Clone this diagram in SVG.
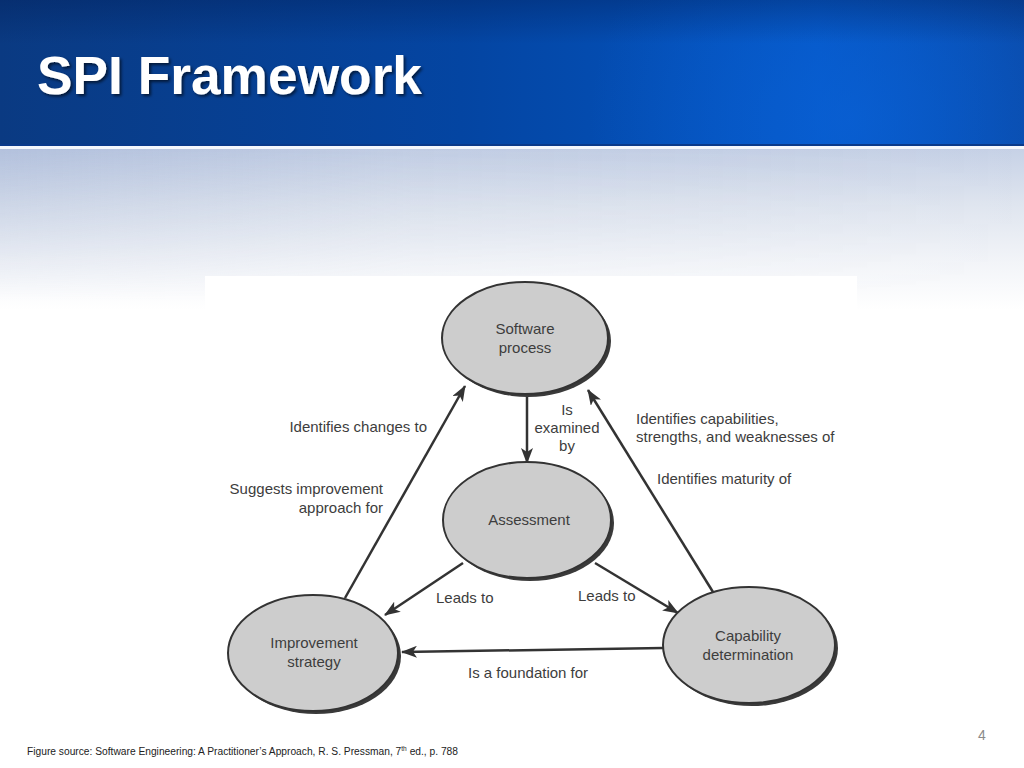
<svg xmlns="http://www.w3.org/2000/svg" width="1024" height="768" viewBox="0 0 1024 768">
<defs>
<linearGradient id="hdr" x1="0" y1="0" x2="1" y2="0">
<stop offset="0" stop-color="#0a3a82"/>
<stop offset="0.45" stop-color="#0445a2"/>
<stop offset="0.8" stop-color="#0456c4"/>
<stop offset="1" stop-color="#0a4aa8"/>
</linearGradient>
<radialGradient id="hl" cx="850" cy="120" r="260" gradientUnits="userSpaceOnUse">
<stop offset="0" stop-color="#0a62d8" stop-opacity="0.7"/>
<stop offset="1" stop-color="#0a62d8" stop-opacity="0"/>
</radialGradient>
<linearGradient id="hdrV" x1="0" y1="0" x2="0" y2="1">
<stop offset="0" stop-color="#001a50" stop-opacity="0.35"/>
<stop offset="0.3" stop-color="#001a50" stop-opacity="0"/>
<stop offset="1" stop-color="#001a50" stop-opacity="0"/>
</linearGradient>
<linearGradient id="body" x1="0" y1="148" x2="0" y2="310" gradientUnits="userSpaceOnUse">
<stop offset="0" stop-color="#c6d1e6"/>
<stop offset="0.35" stop-color="#dfe5ef"/>
<stop offset="0.7" stop-color="#f2f4f8"/>
<stop offset="1" stop-color="#ffffff"/>
</linearGradient>
<linearGradient id="bodyH" x1="0" y1="0" x2="1" y2="0">
<stop offset="0" stop-color="#8fa3cc" stop-opacity="0.35"/>
<stop offset="0.4" stop-color="#8fa3cc" stop-opacity="0.1"/>
<stop offset="1" stop-color="#8fa3cc" stop-opacity="0"/>
</linearGradient>
<linearGradient id="fadeM" x1="0" y1="148" x2="0" y2="300" gradientUnits="userSpaceOnUse">
<stop offset="0" stop-color="#fff"/>
<stop offset="1" stop-color="#000"/>
</linearGradient>
<mask id="vm" maskUnits="userSpaceOnUse" x="0" y="148" width="1024" height="160">
<rect x="0" y="148" width="1024" height="160" fill="url(#fadeM)"/>
</mask>
<filter id="tsh" x="-10%" y="-30%" width="120%" height="160%">
<feDropShadow dx="2" dy="2" stdDeviation="1.5" flood-color="#000" flood-opacity="0.6"/>
</filter>
<marker id="ah" viewBox="0 0 16 12" refX="15" refY="6" markerWidth="16" markerHeight="12" markerUnits="userSpaceOnUse" orient="auto">
<path d="M0,0 L16,6 L0,12 L4,6 Z" fill="#333"/>
</marker>
<style>
.node-shadow{fill:#3a3a3a}
.node{fill:#cdcdcd;stroke:#333;stroke-width:2}
.lbl{font-family:"Liberation Sans",Arial,sans-serif;font-size:15px;fill:#3d3d3d}
.edge{stroke:#333;stroke-width:2.5;fill:none;marker-end:url(#ah)}
</style>
</defs>

<!-- background -->
<rect x="0" y="0" width="1024" height="768" fill="#ffffff"/>
<rect x="0" y="148" width="1024" height="162" fill="url(#body)"/>
<rect x="0" y="148" width="1024" height="160" fill="url(#bodyH)" mask="url(#vm)"/>
<rect x="0" y="0" width="1024" height="146" fill="url(#hdr)"/>
<rect x="0" y="0" width="1024" height="146" fill="url(#hl)"/>
<rect x="0" y="0" width="1024" height="146" fill="url(#hdrV)"/>
<rect x="0" y="144" width="1024" height="2" fill="#0a3a8a"/>
<rect x="0" y="146" width="1024" height="3" fill="#f4f7fc"/>

<text x="37" y="94" font-family="Liberation Sans,Arial,sans-serif" font-weight="bold" font-size="54" fill="#ffffff" textLength="385" lengthAdjust="spacingAndGlyphs" filter="url(#tsh)">SPI Framework</text>

<!-- figure area -->
<rect x="205" y="276" width="652" height="446" fill="#ffffff"/>

<!-- connectors -->
<g id="connectors">
<line class="edge" x1="345" y1="598" x2="465" y2="386"/>
<line class="edge" x1="527" y1="396" x2="527" y2="463"/>
<line class="edge" x1="713" y1="592" x2="588" y2="390"/>
<line class="edge" x1="463" y1="563" x2="385" y2="615"/>
<line class="edge" x1="595" y1="563" x2="678" y2="613"/>
<line class="edge" x1="663" y1="648" x2="402" y2="652"/>
<text class="lbl" x="427" y="432" text-anchor="end">Identifies changes to</text>
<text class="lbl" x="383" y="494" text-anchor="end">Suggests improvement</text>
<text class="lbl" x="383" y="513" text-anchor="end">approach for</text>
<text class="lbl" x="567" y="415" text-anchor="middle">Is</text>
<text class="lbl" x="567" y="433" text-anchor="middle">examined</text>
<text class="lbl" x="567" y="451" text-anchor="middle">by</text>
<text class="lbl" x="636" y="424">Identifies capabilities,</text>
<text class="lbl" x="636" y="442">strengths, and weaknesses of</text>
<text class="lbl" x="657" y="484">Identifies maturity of</text>
<text class="lbl" x="436" y="603">Leads to</text>
<text class="lbl" x="578" y="601">Leads to</text>
<text class="lbl" x="468" y="678">Is a foundation for</text>
</g>

<g id="software-process">
<ellipse class="node-shadow" cx="528" cy="341" rx="83" ry="56"/>
<ellipse class="node" cx="525" cy="338" rx="83" ry="56"/>
<text class="lbl" x="525" y="334" text-anchor="middle">Software</text>
<text class="lbl" x="525" y="353" text-anchor="middle">process</text>
</g>

<g id="assessment">
<ellipse class="node-shadow" cx="530" cy="523" rx="84" ry="58"/>
<ellipse class="node" cx="527" cy="520" rx="84" ry="58"/>
<text class="lbl" x="529" y="525" text-anchor="middle">Assessment</text>
</g>

<g id="improvement-strategy">
<ellipse class="node-shadow" cx="316" cy="656" rx="85" ry="58"/>
<ellipse class="node" cx="313" cy="653" rx="85" ry="58"/>
<text class="lbl" x="314" y="648" text-anchor="middle">Improvement</text>
<text class="lbl" x="314" y="667" text-anchor="middle">strategy</text>
</g>

<g id="capability-determination">
<ellipse class="node-shadow" cx="752" cy="648" rx="86" ry="58"/>
<ellipse class="node" cx="749" cy="645" rx="86" ry="58"/>
<text class="lbl" x="748" y="641" text-anchor="middle">Capability</text>
<text class="lbl" x="748" y="660" text-anchor="middle">determination</text>
</g>

<text x="978" y="740" font-family="Liberation Sans,Arial,sans-serif" font-size="14" fill="#8a8a8a">4</text>
<text x="27" y="755" font-family="Liberation Sans,Arial,sans-serif" font-size="10" fill="#222" textLength="431" lengthAdjust="spacingAndGlyphs">Figure source: Software Engineering: A Practitioner’s Approach, R. S. Pressman, 7<tspan font-size="6.5" dy="-4">th</tspan><tspan dy="4"> ed., p. 788</tspan></text>
</svg>
